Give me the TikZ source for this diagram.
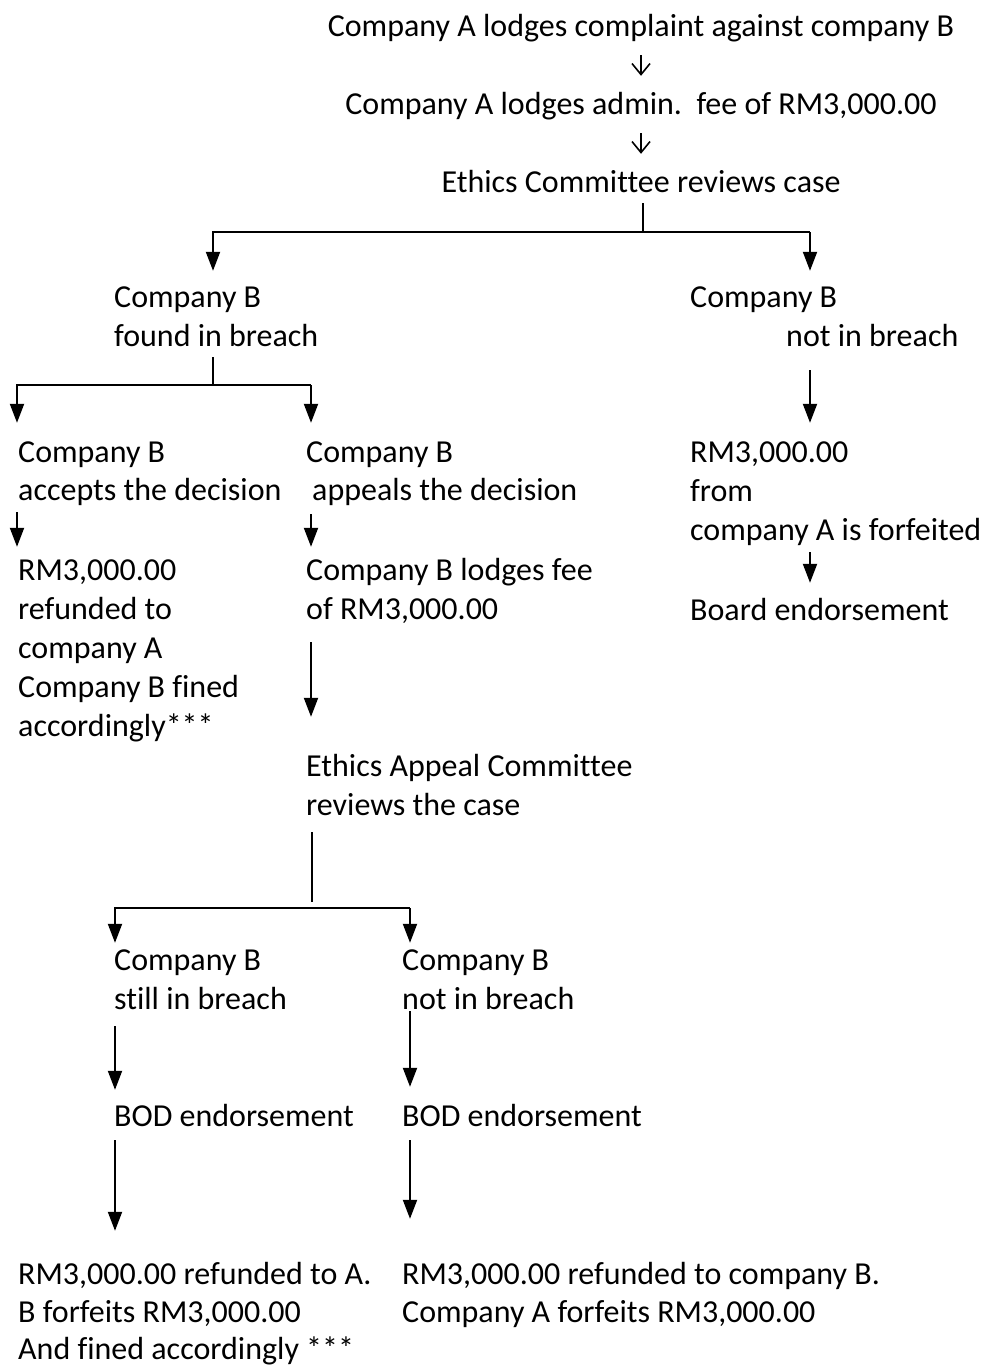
\documentclass[tikz,border=0pt]{standalone}
\usepackage{fontspec}
\setmainfont[Ligatures={NoCommon,NoRequired,NoContextual},Contextuals={NoAlternate}]{Carlito}
\usetikzlibrary{arrows.meta}
\begin{document}
\begin{tikzpicture}[x=1pt,y=-1pt,
  txt/.style={inner sep=0pt, anchor=base west, text height=24pt, text depth=8pt, font=\fontsize{32}{39}\selectfont},
  ctr/.style={txt, anchor=base},
  ln/.style={line width=2pt},
  arr/.style={line width=2pt, -{Triangle[width=14pt,length=19pt]}},
  thinarr/.style={line width=1.6pt, -{Straight Barb[width=18pt,length=11pt,line width=1.6pt]}}]
\useasboundingbox (0,0) rectangle (985,1368);

% top
\node[ctr] (t1) at (641,36) {Company A lodges complaint against company B};
\node[ctr] (t2) at (641,114) {Company A lodges admin.\ \ fee of RM3,000.00};
\node[ctr] (t3) at (641,192) {Ethics Committee reviews case};
\draw[thinarr, shorten <=11pt, shorten >=14pt] (t1.south) -- (t2.north);
\draw[thinarr, shorten <=11pt, shorten >=14pt] (t2.south) -- (t3.north);

% first split
\node[txt] (fb1) at (114,307) {Company B};
\node[txt] (fb2) at (114,346) {found in breach};
\node[txt] (nb1) at (690,307) {Company B};
\node[txt] (nb2) at (786,346) {not in breach};
\coordinate (J1) at (643,232);
\coordinate (L1) at (213,232);
\coordinate (R1) at (810,232);
\draw[ln, shorten <=3pt] (J1 |- t3.south) -- (J1);
\draw[arr, shorten >=12pt] (R1) -- (L1) -- (L1 |- fb1.north);
\draw[arr, shorten >=12pt] (R1) -- (R1 |- nb1.north);

% left branch split
\node[txt] (ca1) at (18,462) {Company B};
\node[txt] (ca2) at (18,500) {accepts the decision};
\node[txt] (ap1) at (306,462) {Company B};
\node[txt] (ap2) at (312,500) {appeals the decision};
\coordinate (J2) at (213,385);
\coordinate (L2) at (17,385);
\coordinate (R2) at (311,385);
\draw[ln, shorten <=3pt] (J2 |- fb2.south) -- (J2);
\draw[arr, shorten >=15pt] (R2) -- (L2) -- (L2 |- ca1.north);
\draw[arr, shorten >=15pt] (R2) -- (R2 |- ap1.north);

% accepts
\node[txt] (ra1) at (18,580) {RM3,000.00};
\node[txt] (ra2) at (18,619) {refunded to};
\node[txt] (ra3) at (18,658) {company A};
\node[txt] (ra4) at (18,697) {Company B fined};
\node[txt] (ra5) at (18,736) {accordingly***};
\draw[arr, shorten <=4pt, shorten >=9pt] (L2 |- ca2.south) -- (L2 |- ra1.north);

% appeals
\node[txt] (lf1) at (306,580) {Company B lodges fee};
\node[txt] (lf2) at (306,619) {of RM3,000.00};
\draw[arr, shorten <=6pt, shorten >=9pt] (R2 |- ap2.south) -- (R2 |- lf1.north);
\node[txt] (ea1) at (306,776) {Ethics Appeal Committee};
\node[txt] (ea2) at (306,815) {reviews the case};
\draw[arr, shorten <=15pt, shorten >=35pt] (R2 |- lf2.south) -- (R2 |- ea1.north);

% appeal split
\coordinate (J3) at (312,908);
\coordinate (L3) at (115,908);
\coordinate (R3) at (410,908);
\draw[ln, shorten <=9pt, shorten >=6pt] (J3 |- ea2.south) -- (J3);
\node[txt] (sb1) at (114,970) {Company B};
\node[txt] (sb2) at (114,1009) {still in breach};
\node[txt] (ni1) at (402,970) {Company B};
\node[txt] (ni2) at (402,1009) {not in breach};
\draw[arr, shorten >=3pt] (R3) -- (L3) -- (L3 |- sb1.north);
\draw[arr, shorten >=3pt] (R3) -- (R3 |- ni1.north);

\node[txt] (bod1) at (114,1126) {BOD endorsement};
\node[txt] (bod2) at (402,1126) {BOD endorsement};
\draw[arr, shorten <=9pt, shorten >=12pt] (L3 |- sb2.south) -- (L3 |- bod1.north);
\draw[arr, shorten <=33pt, shorten >=15pt] (R3 |- ni1.south) -- (R3 |- bod2.north);

\node[txt] (fa1) at (18,1284) {RM3,000.00 refunded to A.};
\node[txt] (fa2) at (18,1322) {B forfeits RM3,000.00};
\node[txt] (fa3) at (18,1359) {And fined accordingly ***};
\node[txt] (fc1) at (402,1284) {RM3,000.00 refunded to company B.};
\node[txt] (fc2) at (402,1322) {Company A forfeits RM3,000.00};
\draw[arr, shorten <=6pt, shorten >=29pt] (L3 |- bod1.south) -- (L3 |- fa1.north);
\draw[arr, shorten <=6pt, shorten >=41pt] (R3 |- bod2.south) -- (R3 |- fc1.north);

% right branch
\node[txt] (rf1) at (690,462) {RM3,000.00};
\node[txt] (rf2) at (690,501) {from};
\node[txt] (rf3) at (690,540) {company A is forfeited};
\node[txt] (be) at (690,620) {Board endorsement};
\draw[arr, shorten <=16pt, shorten >=15pt] (R1 |- nb2.south) -- (R1 |- rf1.north);
\draw[arr, shorten <=4pt, shorten >=13pt] (R1 |- rf3.south) -- (R1 |- be.north);
\end{tikzpicture}
\end{document}
